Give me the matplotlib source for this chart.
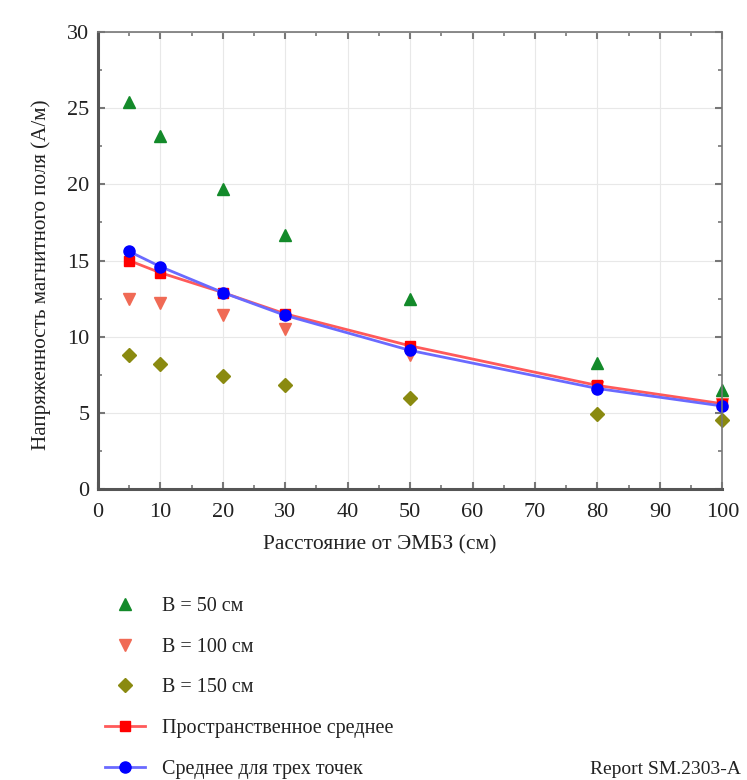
import numpy as np
import matplotlib.pyplot as plt
from matplotlib.ticker import MultipleLocator

plt.rcParams['font.family'] = ['Liberation Serif', 'DejaVu Serif']

# distance from the base station (cm)
dist = [5, 10, 20, 30, 50, 80, 100]

# measured field strength (A/m) at three heights
h50 = [25.4, 23.2, 19.7, 16.7, 12.5, 8.3, 6.5]
h100 = [12.5, 12.2, 11.4, 10.5, 8.8, 6.7, 5.6]
h150 = [8.8, 8.2, 7.4, 6.8, 6.0, 4.9, 4.5]

# averages
spatial_avg = [15.0, 14.2, 12.9, 11.5, 9.4, 6.8, 5.6]
three_pt_avg = [15.6, 14.6, 12.9, 11.4, 9.1, 6.6, 5.45]

labels = ['B = 50 см', 'B = 100 см', 'B = 150 см',
          'Пространственное среднее', 'Среднее для трех точек']

fig = plt.figure(figsize=(7.47, 7.80), dpi=100)
ax = fig.add_axes([0.131, 0.373, 0.836, 0.586])

h1, = ax.plot(dist, h50, linestyle='none', marker='^', color='#138a2a', ms=8.5, clip_on=False)
h2, = ax.plot(dist, h100, linestyle='none', marker='v', color='#f06a55', ms=8.5, clip_on=False)
h3, = ax.plot(dist, h150, linestyle='none', marker='D', color='#8a8a10', ms=7, clip_on=False)
h4, = ax.plot(dist, spatial_avg, '-s', color='#ff5a5a', lw=2, ms=7.5, clip_on=False,
              mfc='red', mec='red')
h5, = ax.plot(dist, three_pt_avg, '-o', color='#6a6aff', lw=2, ms=8, clip_on=False,
              mfc='blue', mec='blue')

ax.set_xlim(0, 100)
ax.set_ylim(0, 30)
ax.xaxis.set_major_locator(MultipleLocator(10))
ax.xaxis.set_minor_locator(MultipleLocator(5))
ax.yaxis.set_major_locator(MultipleLocator(5))
ax.yaxis.set_minor_locator(MultipleLocator(2.5))
ax.grid(True, color='#e8e8e8', lw=0.8)
ax.set_axisbelow(True)
ax.tick_params(which='both', direction='in', right=True, top=True,
               color='#777777', labelsize=16, labelcolor='#222222')
ax.tick_params(axis='x', pad=10)
ax.tick_params(axis='y', pad=6)
ax.tick_params(which='major', length=5, width=1.5)
ax.tick_params(which='minor', length=3, width=1.2)
for s in ax.spines.values():
    s.set_color('#777777')
    s.set_linewidth(1.2)
ax.spines['left'].set_linewidth(2.2)
ax.spines['bottom'].set_linewidth(2.2)
ax.spines['left'].set_color('#555555')
ax.spines['bottom'].set_color('#555555')

ax.set_xlabel('Расстояние от ЭМБЗ (см)', fontsize=15.5, color='#222222')
ax.set_ylabel('Напряженность магнитного поля (А/м)', fontsize=15.2, color='#222222')
ax.xaxis.set_label_coords(0.452, -0.102)
ax.yaxis.set_label_coords(-0.075, 0.468)

leg = fig.legend([h1, h2, h3, h4, h5], labels, loc='upper left',
                 bbox_to_anchor=(0.1406, 0.2345), frameon=False, fontsize=14.5,
                 labelspacing=1.07, handlelength=2.0, handletextpad=0.85,
                 borderaxespad=0, borderpad=0, labelcolor='#222222')

fig.text(0.79, 0.003, 'Report SM.2303-A', fontsize=14, color='#222222', va='bottom')

plt.savefig('out.png', dpi=100)
